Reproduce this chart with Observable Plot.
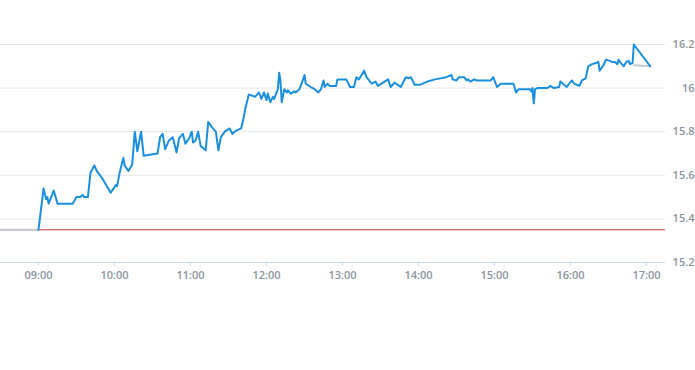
<!DOCTYPE html>
<html>
<head>
<meta charset="utf-8">
<script src="https://cdn.jsdelivr.net/npm/d3@7"></script>
<script src="https://cdn.jsdelivr.net/npm/@observablehq/plot@0.6"></script>
<style>
  html, body { margin: 0; padding: 0; background: #fff; }
  #chart svg { display: block; }
</style>
</head>
<body>
<div id="chart"></div>
<script>
const times = ["09:00","09:04","09:06","09:07","09:08","09:12","09:15","09:27","09:30","09:33",
"09:35","09:36","09:39","09:41","09:44","09:46","09:51","09:57","10:01","10:02",
"10:04","10:07","10:08","10:11","10:14","10:16","10:18","10:21","10:23","10:34",
"10:36","10:38","10:40","10:43","10:46","10:49","10:51","10:54","10:56","10:59",
"11:01","11:02","11:04","11:06","11:08","11:12","11:14","11:17","11:20","11:22",
"11:24","11:27","11:31","11:33","11:36","11:40","11:42","11:43","11:46","11:49",
"11:51","11:54","11:56","11:58","12:00","12:01","12:03","12:05","12:06","12:08",
"12:09","12:10","12:11","12:12","12:14","12:16","12:17","12:19","12:22","12:23",
"12:26","12:28","12:30","12:31","12:35","12:38","12:41","12:43","12:45","12:46",
"12:48","12:50","12:55","12:56","13:03","13:06","13:09","13:11","13:13","13:17",
"13:19","13:23","13:26","13:28","13:32","13:36","13:38","13:41","13:46","13:50",
"13:52","13:54","13:57","14:01","14:07","14:13","14:22","14:26","14:27","14:30",
"14:32","14:36","14:38","14:39","14:41","14:44","14:46","14:51","14:57","14:59",
"15:02","15:05","15:15","15:17","15:19","15:28","15:29","15:30","15:31","15:32",
"15:34","15:42","15:44","15:47","15:51","15:52","15:54","15:57","16:01","16:03",
"16:07","16:09","16:12","16:14","16:17","16:20","16:22","16:23","16:26","16:28",
"16:31","16:33","16:35","16:37","16:38","16:39","16:42","16:44","16:46","16:47",
"16:49","16:50","17:03"];
const prices = [15.35,15.54,15.49,15.50,15.47,15.53,15.47,15.47,15.50,15.50,
15.51,15.50,15.50,15.61,15.645,15.62,15.58,15.52,15.555,15.55,
15.61,15.68,15.645,15.62,15.65,15.80,15.71,15.80,15.69,15.70,
15.775,15.79,15.72,15.76,15.775,15.705,15.77,15.79,15.745,15.77,
15.80,15.75,15.76,15.80,15.735,15.715,15.845,15.82,15.80,15.715,
15.775,15.80,15.815,15.79,15.805,15.815,15.865,15.90,15.97,15.965,
15.96,15.98,15.95,15.98,15.945,15.975,15.935,15.96,15.95,15.98,
15.995,16.07,16.035,15.935,15.995,15.98,15.99,15.975,15.985,15.98,
15.995,16.025,16.06,16.02,16.005,15.995,15.98,15.995,16.035,16.005,
16.02,16.01,16.01,16.04,16.04,16.005,16.005,16.05,16.04,16.08,
16.05,16.02,16.03,16.01,16.025,16.04,16.005,16.025,16.005,16.05,
16.045,16.05,16.015,16.015,16.03,16.04,16.05,16.06,16.04,16.035,
16.05,16.05,16.035,16.04,16.03,16.04,16.035,16.035,16.035,16.05,
16.005,16.02,16.02,15.98,15.995,15.995,15.985,16.0,15.93,15.995,
16.0,16.0,16.01,16.0,16.005,16.03,16.02,16.005,16.035,16.02,
16.01,16.035,16.045,16.10,16.11,16.115,16.12,16.08,16.105,16.13,
16.125,16.12,16.12,16.11,16.13,16.12,16.10,16.12,16.125,16.11,
16.115,16.20,16.10];

const preTimes = ["08:30","09:00"];
const prePrices = [15.35,15.35];
const postTimes = ["16:50","17:03"];
const postPrices = [16.105,16.10];

const previousClose = 15.35;
const xTickLabels = ["09:00","10:00","11:00","12:00","13:00","14:00","15:00","16:00","17:00"];
const yTicks = [15.2,15.4,15.6,15.8,16.0,16.2];
const xDomain = ["08:30","17:15"];

const toDate = s => { const [h,m] = s.split(":").map(Number); return new Date(Date.UTC(2024,0,2,h,m)); };
const main = times.map((t,i) => ({t: toDate(t), v: prices[i]}));
const pre = preTimes.map((t,i) => ({t: toDate(t), v: prePrices[i]}));
const post = postTimes.map((t,i) => ({t: toDate(t), v: postPrices[i]}));

const labelColor = "#8a95a1";
const fontFam = "'Open Sans', 'Noto Sans', sans-serif";

const chart = Plot.plot({
  width: 695,
  height: 370,
  marginLeft: 0,
  marginRight: 30,
  marginTop: 44,
  marginBottom: 108,
  style: {fontFamily: fontFam, fontSize: "11px", background: "#fff"},
  x: {type: "utc", domain: xDomain.map(toDate)},
  y: {domain: [15.2, 16.2]},
  marks: [
    Plot.gridY(yTicks.filter(d => d > 15.2), {stroke: "#e6e6e6", strokeOpacity: 1, strokeWidth: 1}),
    Plot.ruleY([15.2], {stroke: "#ccd6eb", strokeWidth: 1}),
    Plot.ruleY([previousClose], {stroke: "#c8363a", strokeWidth: 1}),
    Plot.axisX({
      ticks: xTickLabels.map(toDate),
      tickFormat: d3.utcFormat("%H:%M"),
      tickSize: 4,
      tickPadding: 5,
      stroke: "#ccd6eb",
      fill: labelColor,
      fontWeight: 600,
      label: null
    }),
    Plot.axisY({
      anchor: "right",
      ticks: yTicks,
      tickFormat: d => String(+d.toFixed(1)),
      tickSize: 0,
      tickPadding: 0,
      textAnchor: "end",
      dx: 29,
      fill: labelColor,
      fontWeight: 600,
      label: null
    }),
    Plot.line(pre, {x: "t", y: "v", stroke: "#c4cbd3", strokeWidth: 2}),
    Plot.line(post, {x: "t", y: "v", stroke: "#c4cbd3", strokeWidth: 2}),
    Plot.line(main, {x: "t", y: "v", stroke: "#1a8fdd", strokeWidth: 2, strokeLinejoin: "round", strokeLinecap: "round"})
  ]
});
document.getElementById("chart").appendChild(chart);
</script>
</body>
</html>
